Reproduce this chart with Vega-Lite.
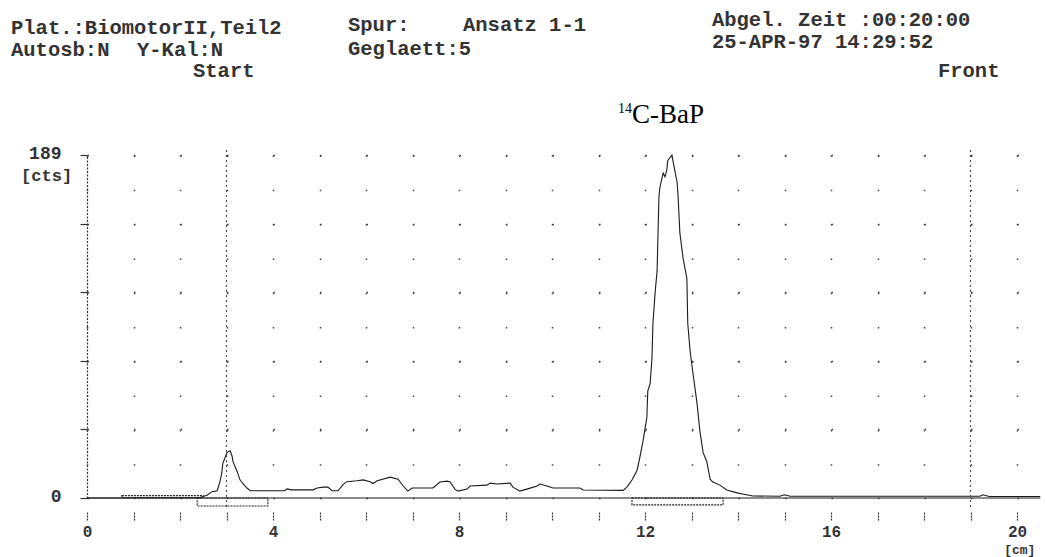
{
  "$schema": "https://vega.github.io/schema/vega-lite/v6.json",
  "width": 953.25,
  "height": 343,
  "autosize": {"type": "none"},
  "padding": {"left": 87, "top": 155, "right": 5, "bottom": 59},
  "background": "white",
  "config": {"view": {"stroke": null}, "font": "Liberation Mono"},
  "datasets": {
    "curve": [
      {"x": 0, "v": 0}, {"x": 2.40, "v": 0}, {"x": 2.58, "v": 1.5}, {"x": 2.69, "v": 3.5}, {"x": 2.80, "v": 4},
      {"x": 2.86, "v": 9}, {"x": 2.90, "v": 14}, {"x": 2.92, "v": 19}, {"x": 3.01, "v": 25}, {"x": 3.08, "v": 26},
      {"x": 3.12, "v": 23}, {"x": 3.14, "v": 20}, {"x": 3.23, "v": 14.5}, {"x": 3.29, "v": 10}, {"x": 3.35, "v": 8},
      {"x": 3.44, "v": 5.5}, {"x": 3.51, "v": 4}, {"x": 4.25, "v": 4}, {"x": 4.30, "v": 5}, {"x": 4.40, "v": 4.5},
      {"x": 4.86, "v": 4.5}, {"x": 4.95, "v": 5.5}, {"x": 5.08, "v": 6}, {"x": 5.18, "v": 6}, {"x": 5.27, "v": 4},
      {"x": 5.40, "v": 4}, {"x": 5.51, "v": 7.5}, {"x": 5.59, "v": 9}, {"x": 5.81, "v": 9.5}, {"x": 5.94, "v": 10},
      {"x": 6.09, "v": 9}, {"x": 6.15, "v": 8}, {"x": 6.24, "v": 9.5}, {"x": 6.52, "v": 11.5}, {"x": 6.69, "v": 10.4},
      {"x": 6.80, "v": 6.6}, {"x": 6.90, "v": 3.8}, {"x": 6.99, "v": 5.5}, {"x": 7.44, "v": 5.5}, {"x": 7.59, "v": 8.8},
      {"x": 7.74, "v": 9.3}, {"x": 7.81, "v": 8.8}, {"x": 7.91, "v": 4.9}, {"x": 7.98, "v": 3.8}, {"x": 8.17, "v": 4.9},
      {"x": 8.24, "v": 6.6}, {"x": 8.60, "v": 7.1}, {"x": 8.67, "v": 8.2}, {"x": 8.82, "v": 7.7}, {"x": 9.10, "v": 8.2},
      {"x": 9.16, "v": 6}, {"x": 9.31, "v": 3.8}, {"x": 9.46, "v": 4.9}, {"x": 9.68, "v": 6.6}, {"x": 9.74, "v": 7.7},
      {"x": 9.89, "v": 6.6}, {"x": 10.02, "v": 5.5}, {"x": 10.60, "v": 5.5}, {"x": 10.67, "v": 4.4}, {"x": 11.53, "v": 4.2},
      {"x": 11.61, "v": 6}, {"x": 11.72, "v": 9.9}, {"x": 11.83, "v": 15.3}, {"x": 11.89, "v": 22.5}, {"x": 11.96, "v": 31.8},
      {"x": 12.04, "v": 44.4}, {"x": 12.06, "v": 59}, {"x": 12.11, "v": 63}, {"x": 12.15, "v": 77}, {"x": 12.17, "v": 96},
      {"x": 12.22, "v": 114}, {"x": 12.26, "v": 125}, {"x": 12.28, "v": 146}, {"x": 12.30, "v": 166}, {"x": 12.32, "v": 171},
      {"x": 12.39, "v": 179}, {"x": 12.43, "v": 177}, {"x": 12.47, "v": 181}, {"x": 12.49, "v": 186}, {"x": 12.58, "v": 189},
      {"x": 12.60, "v": 186}, {"x": 12.69, "v": 174}, {"x": 12.71, "v": 167}, {"x": 12.75, "v": 146}, {"x": 12.82, "v": 132},
      {"x": 12.90, "v": 121}, {"x": 12.92, "v": 96}, {"x": 12.97, "v": 81}, {"x": 13.03, "v": 69}, {"x": 13.12, "v": 52},
      {"x": 13.18, "v": 37}, {"x": 13.25, "v": 25}, {"x": 13.33, "v": 20}, {"x": 13.40, "v": 10.4}, {"x": 13.46, "v": 8.8},
      {"x": 13.61, "v": 7.1}, {"x": 13.76, "v": 4.4}, {"x": 14.00, "v": 2.7}, {"x": 14.10, "v": 2.2}, {"x": 14.32, "v": 1.1},
      {"x": 14.90, "v": 1.0}, {"x": 15.00, "v": 1.8}, {"x": 15.12, "v": 1.0}, {"x": 19.20, "v": 1.0}, {"x": 19.27, "v": 1.8},
      {"x": 19.40, "v": 0.8}, {"x": 20.50, "v": 0.8}
    ],
    "regions": [
      {"x1": 0.75, "x2": 2.50, "y1": 0.3, "y2": 1.3},
      {"x1": 2.37, "x2": 3.89, "y1": 0, "y2": -4.4},
      {"x1": 11.72, "x2": 13.68, "y1": 0, "y2": -3.8}
    ],
    "one": [{}]
  },
  "layer": [
    {
      "data": {"name": "curve"},
      "mark": {"type": "line", "color": "#1a1a1a", "strokeWidth": 1.1, "interpolate": "linear"},
      "encoding": {
        "x": {
          "field": "x", "type": "quantitative",
          "scale": {"domain": [0, 20.5], "nice": false, "zero": false},
          "axis": {
            "title": null,
            "values": [0,1,2,3,4,5,6,7,8,9,10,11,12,13,14,15,16,17,18,19,20],
            "labelExpr": "datum.value % 4 == 0 ? datum.label : ''",
            "offset": 14, "domain": false,
            "tickSize": 9, "tickDash": [2, 1], "tickColor": "#333", "tickWidth": 1.2,
            "labelFont": "Liberation Mono", "labelFontSize": 16, "labelFontWeight": "bold",
            "labelColor": "#333", "labelPadding": 2, "labelFlush": false, "labelOverlap": false,
            "grid": true, "gridDash": [1.5, 32.8], "gridColor": "#444", "gridWidth": 1.5
          }
        },
        "y": {
          "field": "v", "type": "quantitative",
          "scale": {"domain": [0, 189], "nice": false, "zero": false},
          "axis": {
            "title": null,
            "values": [0, 18.9, 37.8, 56.7, 75.6, 94.5, 113.4, 132.3, 151.2, 170.1, 189],
            "labelExpr": "datum.value == 0 || datum.value == 189 ? format(datum.value, 'd') : ''",
            "domainDash": [2, 1.5], "domainColor": "#333", "domainWidth": 1.2,
            "tickSize": 7, "tickColor": "#333", "tickWidth": 1.2,
            "labelFont": "Liberation Mono", "labelFontSize": 18, "labelFontWeight": "bold",
            "labelColor": "#333", "labelPadding": 19, "labelOffset": -2, "labelFlush": false, "labelOverlap": false,
            "grid": true, "gridDash": [1.5, 45], "gridColor": "#444", "gridWidth": 1.5
          }
        }
      }
    },
    {
      "data": {"name": "one"},
      "mark": {"type": "rule", "color": "#1a1a1a", "strokeWidth": 1.2},
      "encoding": {"x": {"datum": 0, "type": "quantitative"}, "x2": {"datum": 20.5}, "y": {"datum": 0, "type": "quantitative"}}
    },
    {
      "data": {"name": "one"},
      "mark": {"type": "rule", "color": "#444", "strokeWidth": 1.1, "strokeDash": [2, 3]},
      "encoding": {"x": {"datum": 3, "type": "quantitative"}, "y": {"datum": -5, "type": "quantitative"}, "y2": {"datum": 192}}
    },
    {
      "data": {"name": "one"},
      "mark": {"type": "rule", "color": "#444", "strokeWidth": 1.1, "strokeDash": [2, 3]},
      "encoding": {"x": {"datum": 19, "type": "quantitative"}, "y": {"datum": -5, "type": "quantitative"}, "y2": {"datum": 192}}
    },
    {
      "data": {"name": "regions"},
      "mark": {"type": "rect", "fillOpacity": 0, "stroke": "#222", "strokeWidth": 1.1, "strokeDash": [2, 1]},
      "encoding": {
        "x": {"field": "x1", "type": "quantitative"},
        "x2": {"field": "x2"},
        "y": {"field": "y1", "type": "quantitative"},
        "y2": {"field": "y2"}
      }
    },
    {
      "data": {"name": "one"},
      "mark": {"type": "text", "text": "Plat.:BiomotorII,Teil2", "align": "left", "baseline": "alphabetic", "font": "Liberation Mono", "fontSize": 20.5, "fontWeight": "bold", "color": "#333"},
      "encoding": {"x": {"datum": -1.634, "type": "quantitative"}, "y": {"datum": 255.6, "type": "quantitative"}}
    },
    {
      "data": {"name": "one"},
      "mark": {"type": "text", "text": "Autosb:N", "align": "left", "baseline": "alphabetic", "font": "Liberation Mono", "fontSize": 20.5, "fontWeight": "bold", "color": "#333"},
      "encoding": {"x": {"datum": -1.634, "type": "quantitative"}, "y": {"datum": 243.5, "type": "quantitative"}}
    },
    {
      "data": {"name": "one"},
      "mark": {"type": "text", "text": "Y-Kal:N", "align": "left", "baseline": "alphabetic", "font": "Liberation Mono", "fontSize": 20.5, "fontWeight": "bold", "color": "#333"},
      "encoding": {"x": {"datum": 1.075, "type": "quantitative"}, "y": {"datum": 243.5, "type": "quantitative"}}
    },
    {
      "data": {"name": "one"},
      "mark": {"type": "text", "text": "Start", "align": "left", "baseline": "alphabetic", "font": "Liberation Mono", "fontSize": 20.5, "fontWeight": "bold", "color": "#333"},
      "encoding": {"x": {"datum": 2.28, "type": "quantitative"}, "y": {"datum": 232.0, "type": "quantitative"}}
    },
    {
      "data": {"name": "one"},
      "mark": {"type": "text", "text": "Spur:", "align": "left", "baseline": "alphabetic", "font": "Liberation Mono", "fontSize": 20.5, "fontWeight": "bold", "color": "#333"},
      "encoding": {"x": {"datum": 5.613, "type": "quantitative"}, "y": {"datum": 257.3, "type": "quantitative"}}
    },
    {
      "data": {"name": "one"},
      "mark": {"type": "text", "text": "Ansatz 1-1", "align": "left", "baseline": "alphabetic", "font": "Liberation Mono", "fontSize": 20.5, "fontWeight": "bold", "color": "#333"},
      "encoding": {"x": {"datum": 8.086, "type": "quantitative"}, "y": {"datum": 257.3, "type": "quantitative"}}
    },
    {
      "data": {"name": "one"},
      "mark": {"type": "text", "text": "Geglaett:5", "align": "left", "baseline": "alphabetic", "font": "Liberation Mono", "fontSize": 20.5, "fontWeight": "bold", "color": "#333"},
      "encoding": {"x": {"datum": 5.613, "type": "quantitative"}, "y": {"datum": 244.1, "type": "quantitative"}}
    },
    {
      "data": {"name": "one"},
      "mark": {"type": "text", "text": "Abgel. Zeit :00:20:00", "align": "left", "baseline": "alphabetic", "font": "Liberation Mono", "fontSize": 20.5, "fontWeight": "bold", "color": "#333"},
      "encoding": {"x": {"datum": 13.44, "type": "quantitative"}, "y": {"datum": 260.1, "type": "quantitative"}}
    },
    {
      "data": {"name": "one"},
      "mark": {"type": "text", "text": "25-APR-97 14:29:52", "align": "left", "baseline": "alphabetic", "font": "Liberation Mono", "fontSize": 20.5, "fontWeight": "bold", "color": "#333"},
      "encoding": {"x": {"datum": 13.44, "type": "quantitative"}, "y": {"datum": 247.9, "type": "quantitative"}}
    },
    {
      "data": {"name": "one"},
      "mark": {"type": "text", "text": "Front", "align": "left", "baseline": "alphabetic", "font": "Liberation Mono", "fontSize": 20.5, "fontWeight": "bold", "color": "#333"},
      "encoding": {"x": {"datum": 18.30, "type": "quantitative"}, "y": {"datum": 232.0, "type": "quantitative"}}
    },
    {
      "data": {"name": "one"},
      "mark": {"type": "text", "text": "C-BaP", "align": "left", "baseline": "alphabetic", "font": "Liberation Serif", "fontSize": 27, "color": "#000"},
      "encoding": {"x": {"datum": 11.72, "type": "quantitative"}, "y": {"datum": 206.6, "type": "quantitative"}}
    },
    {
      "data": {"name": "one"},
      "mark": {"type": "text", "text": "14", "align": "right", "baseline": "alphabetic", "font": "Liberation Serif", "fontSize": 14, "color": "#000"},
      "encoding": {"x": {"datum": 11.72, "type": "quantitative"}, "y": {"datum": 212.4, "type": "quantitative"}}
    },
    {
      "data": {"name": "one"},
      "mark": {"type": "text", "text": "[cts]", "align": "right", "baseline": "alphabetic", "font": "Liberation Mono", "fontSize": 17, "fontWeight": "bold", "color": "#333"},
      "encoding": {"x": {"datum": -0.32, "type": "quantitative"}, "y": {"datum": 174.6, "type": "quantitative"}}
    },
    {
      "data": {"name": "one"},
      "mark": {"type": "text", "text": "[cm]", "align": "center", "baseline": "alphabetic", "font": "Liberation Mono", "fontSize": 13, "fontWeight": "bold", "color": "#333"},
      "encoding": {"x": {"datum": 20.06, "type": "quantitative"}, "y": {"datum": -30.9, "type": "quantitative"}}
    }
  ]
}
